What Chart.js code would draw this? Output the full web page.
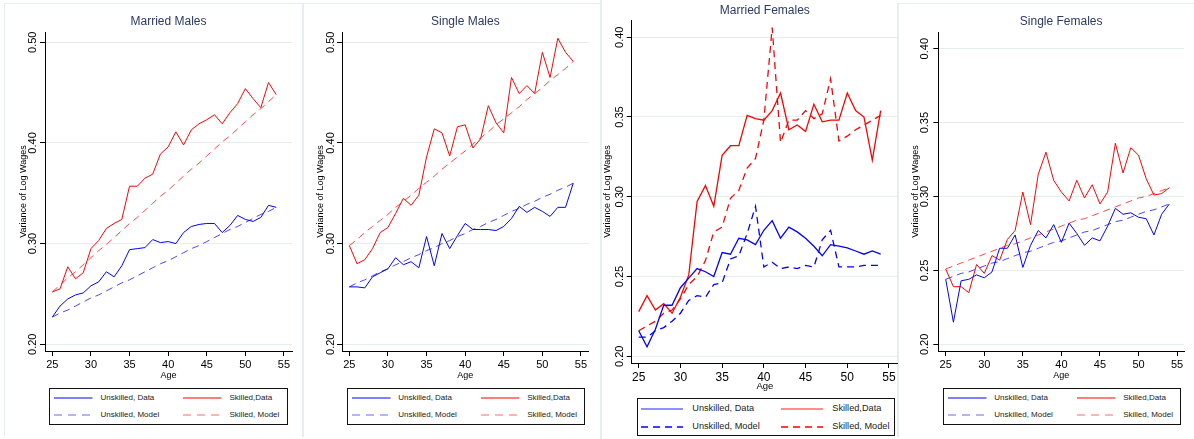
<!DOCTYPE html>
<html>
<head>
<meta charset="utf-8">
<script src="https://cdn.jsdelivr.net/npm/chart.js@4.4.1/dist/chart.umd.min.js"></script>
<style>
html, body { margin: 0; padding: 0; background: #fff; }
body { width: 1194px; height: 439px; position: relative; overflow: hidden; font-family: "Liberation Sans", Arial, sans-serif; }
.sep { position: absolute; background: #e8eef0; }
canvas { position: absolute; top: 0; }
.legend { position: absolute; border: 1px solid #111; box-sizing: border-box; background: #fff; }
.legend span { position: absolute; white-space: nowrap; color: #222; line-height: 1; transform: translateY(-50%); }
.legend svg { position: absolute; overflow: visible; }
</style>
</head>
<body>
<script>
// ==================== DATA ====================

const ages = [25, 26, 27, 28, 29, 30, 31, 32, 33, 34, 35, 36, 37, 38, 39, 40, 41, 42, 43, 44, 45, 46, 47, 48, 49, 50, 51, 52, 53, 54];
const xTicks = [25, 30, 35, 40, 45, 50, 55];
const maleYTicks = [0.20, 0.30, 0.40, 0.50];
const maleYTickLabels = ['0.20', '0.30', '0.40', '0.50'];
const femaleYTicks = [0.20, 0.25, 0.30, 0.35, 0.40];
const femaleYTickLabels = ['0.20', '0.25', '0.30', '0.35', '0.40'];
const panelTitles = ['Married Males', 'Single Males', 'Married Females', 'Single Females'];
const seriesNames = ['Unskilled, Data', 'Skilled,Data', 'Unskilled, Model', 'Skilled, Model'];

// Married Males
const mmUnskData = [0.227, 0.238, 0.245, 0.249, 0.251, 0.258, 0.262, 0.272, 0.267, 0.278, 0.294, 0.295, 0.296, 0.304, 0.301, 0.302, 0.300, 0.311, 0.317, 0.319, 0.320, 0.320, 0.311, 0.318, 0.328, 0.324, 0.322, 0.326, 0.338, 0.336];
const mmSkData = [0.252, 0.255, 0.277, 0.265, 0.271, 0.295, 0.303, 0.315, 0.320, 0.324, 0.357, 0.357, 0.365, 0.369, 0.389, 0.396, 0.411, 0.398, 0.413, 0.419, 0.423, 0.428, 0.419, 0.430, 0.439, 0.454, 0.444, 0.435, 0.460, 0.448];
const mmUnskModel = [0.227, 0.231, 0.234, 0.238, 0.242, 0.246, 0.249, 0.253, 0.257, 0.261, 0.264, 0.268, 0.272, 0.276, 0.280, 0.283, 0.287, 0.291, 0.295, 0.298, 0.302, 0.306, 0.310, 0.314, 0.317, 0.321, 0.325, 0.329, 0.332, 0.336];
const mmSkModel = [0.252, 0.259, 0.266, 0.272, 0.279, 0.286, 0.293, 0.299, 0.306, 0.313, 0.320, 0.326, 0.333, 0.340, 0.347, 0.353, 0.360, 0.367, 0.374, 0.380, 0.387, 0.394, 0.401, 0.407, 0.414, 0.421, 0.428, 0.434, 0.441, 0.448];

// Single Males
const smUnskData = [0.257, 0.257, 0.256, 0.267, 0.271, 0.275, 0.286, 0.279, 0.282, 0.276, 0.307, 0.278, 0.310, 0.295, 0.308, 0.320, 0.314, 0.314, 0.314, 0.313, 0.317, 0.325, 0.337, 0.331, 0.336, 0.332, 0.327, 0.336, 0.336, 0.360];
const smSkData = [0.298, 0.280, 0.284, 0.295, 0.311, 0.316, 0.330, 0.345, 0.338, 0.348, 0.386, 0.414, 0.410, 0.387, 0.416, 0.418, 0.395, 0.404, 0.437, 0.420, 0.410, 0.465, 0.449, 0.457, 0.449, 0.490, 0.465, 0.504, 0.490, 0.481];
const smUnskModel = [0.257, 0.261, 0.264, 0.268, 0.272, 0.275, 0.279, 0.282, 0.286, 0.289, 0.293, 0.296, 0.300, 0.303, 0.307, 0.310, 0.314, 0.317, 0.321, 0.324, 0.328, 0.332, 0.335, 0.339, 0.342, 0.346, 0.349, 0.353, 0.356, 0.360];
const smSkModel = [0.298, 0.304, 0.311, 0.317, 0.323, 0.329, 0.336, 0.342, 0.348, 0.355, 0.361, 0.367, 0.374, 0.380, 0.386, 0.392, 0.399, 0.405, 0.411, 0.418, 0.424, 0.430, 0.436, 0.443, 0.449, 0.455, 0.462, 0.468, 0.474, 0.481];

// Married Females
const mfUnskData = [0.216, 0.206, 0.217, 0.232, 0.232, 0.243, 0.249, 0.255, 0.253, 0.250, 0.265, 0.264, 0.274, 0.273, 0.270, 0.279, 0.285, 0.274, 0.281, 0.278, 0.274, 0.269, 0.263, 0.270, 0.269, 0.268, 0.266, 0.264, 0.266, 0.264];
const mfSkData = [0.228, 0.238, 0.229, 0.233, 0.227, 0.237, 0.251, 0.297, 0.307, 0.294, 0.326, 0.332, 0.332, 0.351, 0.349, 0.348, 0.354, 0.365, 0.342, 0.345, 0.341, 0.358, 0.347, 0.348, 0.348, 0.365, 0.354, 0.350, 0.323, 0.354];
const mfUnskModel = [0.212, 0.212, 0.216, 0.218, 0.222, 0.227, 0.235, 0.238, 0.237, 0.245, 0.246, 0.261, 0.263, 0.277, 0.294, 0.256, 0.259, 0.255, 0.256, 0.255, 0.257, 0.256, 0.273, 0.279, 0.256, 0.256, 0.256, 0.257, 0.257, 0.257];
const mfSkModel = [0.216, 0.219, 0.222, 0.227, 0.229, 0.236, 0.245, 0.250, 0.260, 0.278, 0.281, 0.299, 0.304, 0.318, 0.324, 0.348, 0.406, 0.334, 0.348, 0.348, 0.354, 0.349, 0.352, 0.374, 0.335, 0.338, 0.342, 0.345, 0.348, 0.351];

// Single Females
const sfUnskData = [0.244, 0.215, 0.243, 0.244, 0.247, 0.245, 0.249, 0.265, 0.265, 0.274, 0.252, 0.267, 0.277, 0.272, 0.281, 0.269, 0.282, 0.275, 0.267, 0.272, 0.270, 0.280, 0.292, 0.288, 0.289, 0.286, 0.285, 0.274, 0.288, 0.295];
const sfSkData = [0.251, 0.239, 0.239, 0.235, 0.254, 0.248, 0.260, 0.257, 0.271, 0.277, 0.303, 0.281, 0.315, 0.330, 0.311, 0.303, 0.297, 0.311, 0.299, 0.308, 0.295, 0.303, 0.336, 0.316, 0.333, 0.328, 0.312, 0.301, 0.302, 0.306];
const sfUnskModel = [0.244, 0.246, 0.248, 0.249, 0.251, 0.253, 0.255, 0.256, 0.258, 0.260, 0.262, 0.263, 0.265, 0.267, 0.269, 0.270, 0.272, 0.274, 0.276, 0.277, 0.279, 0.281, 0.283, 0.284, 0.286, 0.288, 0.290, 0.291, 0.293, 0.295];
const sfSkModel = [0.251, 0.253, 0.255, 0.257, 0.259, 0.261, 0.263, 0.265, 0.267, 0.268, 0.270, 0.272, 0.274, 0.276, 0.278, 0.280, 0.282, 0.284, 0.285, 0.287, 0.289, 0.291, 0.293, 0.295, 0.297, 0.299, 0.300, 0.302, 0.304, 0.306];

// ==================== LAYOUT ====================

const FONT = '"Liberation Sans", Arial, sans-serif';
const TITLE_COLOR = '#2b3a66';
const GRID_COLOR = '#e5edef';

// box: normal legend (panels 1, 2, 4)
const legendStd = { top: 387.5, width: 238.5, height: 37.5, rows: [9.2, 26.7], lineX: [4, 133], lineLen: 38.5, textX: [50.5, 179.5], font: 8, dash: [8, 6], lineWidth: 1.2 };

const panels = [
    { title: panelTitles[0], left: 0, width: 300, height: 381,
      area: { left: 45, right: 292, top: 32, bottom: 351 },
      xMin: 24.05, xMax: 56.04, yMin: 0.1933, yMax: 0.5102,
      yTicks: maleYTicks, yLabels: maleYTickLabels,
      tickLabelX: 33.3, yTitleX: 23.3, titleY: 21.7, tickFont: 11, ageFont: 9, lineWidth: 1,
      series: [mmUnskData, mmSkData, mmUnskModel, mmSkModel],
      colors: ['#0000ff', '#ff0000', '#4646ff', '#ff4646'], dash: [7, 5],
      legend: Object.assign({ left: 49 }, legendStd),
      legendColors: ['#0000ff', '#ff0000', '#6a6aff', '#ff6a6a'] },
    { title: panelTitles[1], left: 300, width: 300, height: 381,
      area: { left: 342, right: 588.7, top: 32, bottom: 351 },
      xMin: 24.05, xMax: 56.0, yMin: 0.1933, yMax: 0.5102,
      yTicks: maleYTicks, yLabels: maleYTickLabels,
      tickLabelX: 330.7, yTitleX: 320.7, titleY: 21.7, tickFont: 11, ageFont: 9, lineWidth: 1,
      series: [smUnskData, smSkData, smUnskModel, smSkModel],
      colors: ['#0000ff', '#ff0000', '#4646ff', '#ff4646'], dash: [7, 5],
      legend: Object.assign({ left: 346.7 }, legendStd),
      legendColors: ['#0000ff', '#ff0000', '#6a6aff', '#ff6a6a'] },
    { title: panelTitles[2], left: 600, width: 298, height: 392,
      area: { left: 631.7, right: 898, top: 20, bottom: 363 },
      xMin: 24.16, xMax: 56.08, yMin: 0.1958, yMax: 0.4108,
      yTicks: femaleYTicks, yLabels: femaleYTickLabels,
      tickLabelX: 620, yTitleX: 607.7, titleY: 10.7, tickFont: 12, ageFont: 9.5, lineWidth: 1.3,
      series: [mfUnskData, mfSkData, mfUnskModel, mfSkModel],
      colors: ['#0000ff', '#ff0000', '#0000ff', '#ff0000'], dash: [7, 5],
      legend: { left: 636.7, top: 398, width: 258.3, height: 38.4, rows: [10, 27.7], lineX: [3.3, 143.3], lineLen: 42, textX: [54.6, 194.6], font: 9.2, dash: [7, 5], lineWidth: 1.5 },
      legendColors: ['#6a6aff', '#ff6a6a', '#0000ff', '#ff0000'] },
    { title: panelTitles[3], left: 898, width: 296, height: 381,
      area: { left: 938.3, right: 1184, top: 32, bottom: 351 },
      xMin: 24.04, xMax: 55.9, yMin: 0.1955, yMax: 0.4113,
      yTicks: femaleYTicks, yLabels: femaleYTickLabels,
      tickLabelX: 925, yTitleX: 915.7, titleY: 21.7, tickFont: 11, ageFont: 9, lineWidth: 1,
      series: [sfUnskData, sfSkData, sfUnskModel, sfSkModel],
      colors: ['#0000ff', '#ff0000', '#4646ff', '#ff4646'], dash: [7, 5],
      legend: Object.assign({ left: 942.7 }, legendStd),
      legendColors: ['#0000ff', '#ff0000', '#6a6aff', '#ff6a6a'] }
];

// ==================== PANEL BORDERS ====================

function addSeparator(left, top, width, height) {
    const d = document.createElement('div');
    d.className = 'sep';
    d.style.cssText = `left:${left}px;top:${top}px;width:${width}px;height:${height}px;`;
    document.body.appendChild(d);
}

addSeparator(4, 3, 1, 434);
addSeparator(302, 3, 2, 434);
addSeparator(600, 0, 2, 439);
addSeparator(897, 3, 2, 434);
addSeparator(4, 3, 596, 1);
addSeparator(899, 3, 295, 1);

// ==================== CHARTS ====================

function createPanel(p) {
    const canvas = document.createElement('canvas');
    canvas.width = p.width;
    canvas.height = p.height;
    canvas.style.left = p.left + 'px';
    canvas.style.width = p.width + 'px';
    canvas.style.height = p.height + 'px';
    document.body.appendChild(canvas);

    const areaLeft = p.area.left - p.left;
    const areaRight = p.area.right - p.left;

    const datasets = p.series.map((vals, i) => ({
        label: seriesNames[i],
        data: ages.map((a, k) => ({ x: a, y: vals[k] })),
        borderColor: p.colors[i],
        borderWidth: p.lineWidth,
        borderDash: i >= 2 ? p.dash : [],
        pointRadius: 0,
        fill: false,
        tension: 0
    }));

    // title, rotated y tick labels and y title
    const decor = {
        id: 'decor',
        afterDraw(chart) {
            const ctx = chart.ctx;
            const area = chart.chartArea;
            const yScale = chart.scales.y;
            ctx.save();
            ctx.fillStyle = TITLE_COLOR;
            ctx.font = `12px ${FONT}`;
            ctx.textAlign = 'center';
            ctx.textBaseline = 'middle';
            ctx.fillText(p.title, (area.left + area.right) / 2, p.titleY);

            ctx.fillStyle = '#000';
            ctx.font = `11px ${FONT}`;
            p.yTicks.forEach((v, i) => {
                ctx.save();
                ctx.translate(p.tickLabelX - p.left, yScale.getPixelForValue(v));
                ctx.rotate(-Math.PI / 2);
                ctx.fillText(p.yLabels[i], 0, 0);
                ctx.restore();
            });

            ctx.font = `9px ${FONT}`;
            ctx.translate(p.yTitleX - p.left, (area.top + area.bottom) / 2);
            ctx.rotate(-Math.PI / 2);
            ctx.fillText('Variance of Log Wages', 0, 0);
            ctx.restore();
        }
    };

    new Chart(canvas, {
        type: 'line',
        data: { datasets },
        options: {
            responsive: false,
            animation: false,
            layout: { padding: { left: 0, right: p.width - areaRight, top: p.area.top, bottom: 0 } },
            plugins: {
                legend: { display: false },
                tooltip: { enabled: false },
                title: { display: false }
            },
            scales: {
                x: {
                    type: 'linear',
                    min: p.xMin,
                    max: p.xMax,
                    afterBuildTicks: s => { s.ticks = xTicks.map(v => ({ value: v })); },
                    afterFit: s => { s.height = p.height - p.area.bottom; },
                    grid: { drawOnChartArea: false, drawTicks: true, tickLength: 5, color: '#000', tickColor: '#000' },
                    border: { color: '#000', width: 1 },
                    ticks: { font: { family: FONT, size: p.tickFont }, color: '#000', padding: 2, maxRotation: 0, autoSkip: false },
                    title: { display: true, text: 'Age', font: { family: FONT, size: p.ageFont }, color: '#000', padding: 0 }
                },
                y: {
                    type: 'linear',
                    min: p.yMin,
                    max: p.yMax,
                    afterBuildTicks: s => { s.ticks = p.yTicks.map(v => ({ value: v })); },
                    afterFit: s => { s.width = areaLeft; },
                    grid: { color: GRID_COLOR, tickColor: '#000', tickLength: 5, lineWidth: 1 },
                    border: { color: '#000', width: 1 },
                    ticks: { display: false }
                }
            }
        },
        plugins: [decor]
    });
}

// ==================== LEGENDS ====================

function createLegend(p) {
    const L = p.legend;
    const box = document.createElement('div');
    box.className = 'legend';
    box.style.cssText = `left:${L.left}px;top:${L.top}px;width:${L.width}px;height:${L.height}px;`;

    seriesNames.forEach((name, i) => {
        const col = i % 2;
        const row = Math.floor(i / 2);
        const y = L.rows[row];

        const svg = document.createElementNS('http://www.w3.org/2000/svg', 'svg');
        svg.setAttribute('width', L.lineLen);
        svg.setAttribute('height', 4);
        svg.style.left = L.lineX[col] + 'px';
        svg.style.top = (y - 2) + 'px';
        const line = document.createElementNS('http://www.w3.org/2000/svg', 'line');
        line.setAttribute('x1', 0);
        line.setAttribute('y1', 2);
        line.setAttribute('x2', L.lineLen);
        line.setAttribute('y2', 2);
        line.setAttribute('stroke', p.legendColors[i]);
        line.setAttribute('stroke-width', L.lineWidth);
        if (row === 1) line.setAttribute('stroke-dasharray', L.dash.join(' '));
        svg.appendChild(line);
        box.appendChild(svg);

        const span = document.createElement('span');
        span.textContent = name;
        span.style.left = L.textX[col] + 'px';
        span.style.top = y + 'px';
        span.style.fontSize = L.font + 'px';
        box.appendChild(span);
    });

    document.body.appendChild(box);
}

panels.forEach(p => {
    createPanel(p);
    createLegend(p);
});
</script>
</body>
</html>
